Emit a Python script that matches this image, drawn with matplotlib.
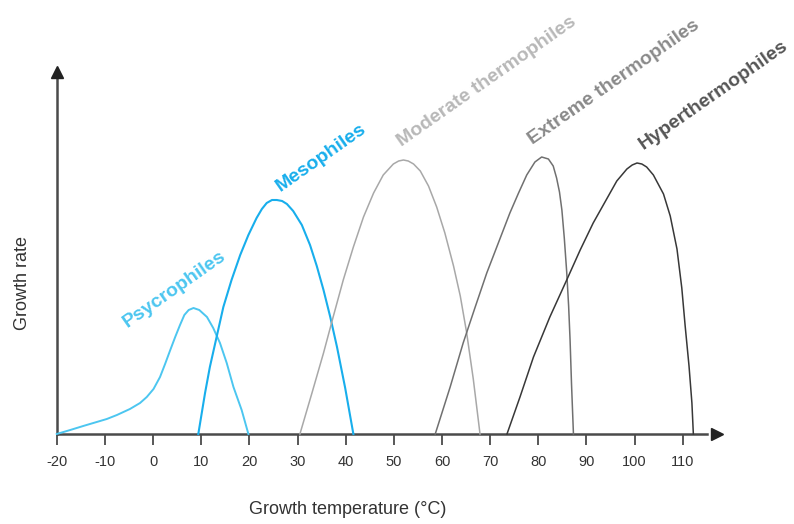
import matplotlib
matplotlib.use("Agg")
import matplotlib.pyplot as plt

plt.rcParams['font.family'] = ['Liberation Sans', 'DejaVu Sans']

# growth curves (temperature in C, growth rate in arbitrary units)
psy_t = [-20, -17.2, -14.5, -12.4, -9.6, -7.5, -4.8, -2.7, -1.3, 0.1, 1.45, 2.5, 3.5,
         4.6, 5.6, 6.5, 7.4, 8.4, 9.6, 11.2, 12.5, 13.9, 15.3, 16.7, 18.4, 19.8]
psy_r = [0, 4, 8, 11, 15, 19, 25, 31, 37, 45, 57, 70, 83,
         97, 109, 119, 124, 126, 124, 117, 106, 91, 71, 47, 24, 0]

meso_t = [9.4, 10.8, 11.8, 13.2, 14.6, 16.3, 18.1, 19.8, 21.5, 22.6, 23.6, 24.7, 25.7,
          26.8, 27.8, 29.1, 30.9, 32.6, 34, 35.4, 36.8, 38.2, 39.9, 41.6]
meso_r = [0, 41, 67, 97, 127, 154, 179, 199, 216, 225, 231, 234, 234,
          233, 230, 223, 209, 189, 168, 144, 117, 87, 46, 0]

mod_t = [30.5, 33, 35.4, 37.4, 39.5, 41.6, 43.7, 45.8, 47.8, 49.9, 51, 52, 53, 54.1,
         55.5, 57.2, 58.9, 60.6, 62.4, 63.8, 65.1, 66.5, 67.9]
mod_r = [0, 41, 81, 117, 154, 187, 217, 241, 259, 270, 273, 274, 273, 270,
         263, 248, 227, 201, 168, 138, 102, 55, 0]

ext_t = [58.6, 61.7, 64.4, 66.9, 69.3, 71.7, 74.1, 75.9, 77.6, 79.3, 80.7, 82.1,
         83.1, 83.8, 84.4, 84.9, 85.4, 85.9, 86.3, 86.6, 86.9, 87.3]
ext_r = [0, 47, 91, 127, 161, 191, 221, 241, 259, 272, 277, 275,
         268, 256, 242, 224, 196, 162, 128, 94, 50, 0]

hyp_t = [73.5, 76.2, 79, 82.4, 85.9, 88.7, 91.4, 94.2, 96.3, 98.4, 99.5, 100.5, 101.5, 102.5,
         103.9, 106, 107.4, 108.8, 109.8, 110.5, 111.3, 111.9, 112.2]
hyp_r = [0, 37, 77, 117, 154, 184, 211, 235, 253, 265, 269, 271, 270, 267,
         259, 240, 218, 185, 146, 108, 68, 31, 0]

xticks = list(range(-20, 111, 10))

series = [
    (psy_t, psy_r, '#4cc6f0', 1.4, 'Psycrophiles', -5.4, 106, '#4cc6f0'),
    (meso_t, meso_r, '#18aeec', 1.5, 'Mesophiles', 26.4, 242, '#18aeec'),
    (mod_t, mod_r, '#a8a8a8', 1.1, 'Moderate thermophiles', 51.7, 287, '#b8b8b8'),
    (ext_t, ext_r, '#707070', 1.1, 'Extreme thermophiles', 78.9, 289, '#8a8a8a'),
    (hyp_t, hyp_r, '#383838', 1.1, 'Hyperthermophiles', 101.8, 284, '#555555'),
]

fig = plt.figure(figsize=(7.94, 5.24), dpi=100)
ax = fig.add_axes([0, 0, 1, 1])
ax.set_xlim(-31.78, 133.1)
ax.set_ylim(-90, 434)

for t, r, c, lw, name, lx, ly, lc in series:
    ax.plot(t, r, color=c, lw=lw, zorder=3, solid_joinstyle='round')
    ax.text(lx, ly, name, color=lc, fontsize=14, fontweight='bold',
            rotation=35, rotation_mode='anchor', ha='left', va='baseline')

# axes as arrows
ax.spines['top'].set_visible(False)
ax.spines['right'].set_visible(False)
ax.spines['left'].set_position(('data', -20))
ax.spines['bottom'].set_position(('data', 0))
ax.spines['left'].set_bounds(0, 358)
ax.spines['bottom'].set_bounds(-20, 115)
for s in ['left', 'bottom']:
    ax.spines[s].set_color('#4a4a4a')
    ax.spines[s].set_linewidth(1.8)
ax.plot([117.2], [0], marker='>', color='#222222', ms=9, clip_on=False, zorder=4)
ax.plot([-20], [362], marker='^', color='#222222', ms=9, clip_on=False, zorder=4)

ax.set_xticks(xticks)
ax.set_xticklabels([str(v) for v in xticks])
ax.set_yticks([])
ax.tick_params(axis='x', direction='out', length=8, width=1.3, color='#4a4a4a',
               labelsize=10.5, labelcolor='#333333', pad=7)

ax.text(40.5, -76, 'Growth temperature (°C)', ha='center', va='center',
        fontsize=13, color='#333333')
ax.text(-27.2, 151, 'Growth rate', ha='center', va='center', rotation=90,
        fontsize=13, color='#333333')

fig.savefig('out.png', dpi=100)
